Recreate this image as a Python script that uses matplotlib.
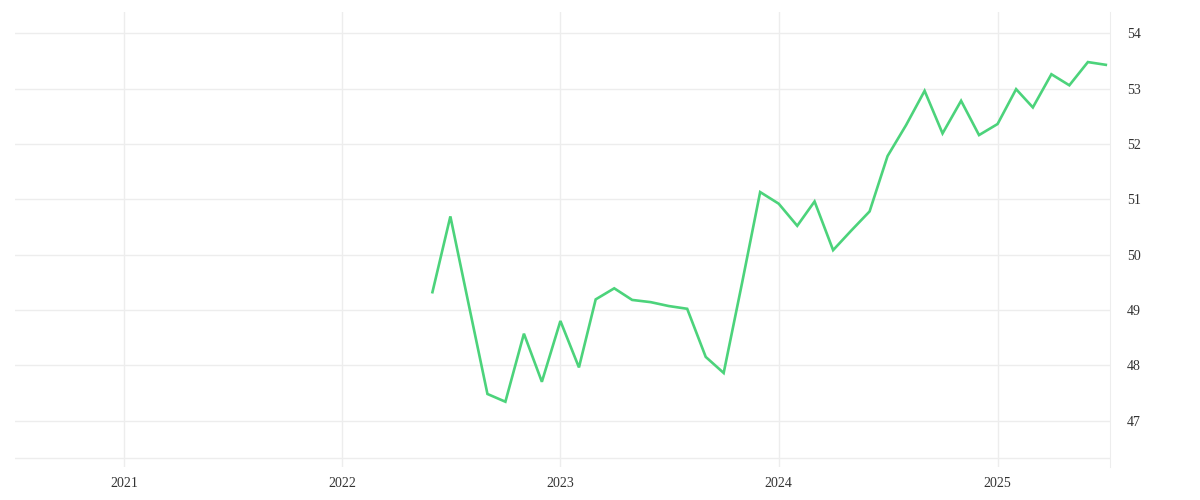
import datetime as dt
import matplotlib
matplotlib.use("Agg")
import matplotlib.pyplot as plt
import matplotlib.dates as mdates

# 月度数据：2022-06 到 2025-07
months = [dt.date(2022 + (5 + i) // 12, (5 + i) % 12 + 1, 1) for i in range(38)]
values = [
    49.32, 50.69, 49.08, 47.48, 47.34, 48.57, 47.70,          # 2022-06 .. 2022-12
    48.80, 47.96, 49.19, 49.39, 49.18, 49.14, 49.07, 49.02,   # 2023-01 .. 2023-08
    48.15, 47.86, 49.50, 51.13,                               # 2023-09 .. 2023-12
    50.92, 50.52, 50.96, 50.08, 50.43, 50.78, 51.78, 52.34,   # 2024-01 .. 2024-08
    52.96, 52.19, 52.78, 52.16,                               # 2024-09 .. 2024-12
    52.36, 52.99, 52.66, 53.26, 53.06, 53.48, 53.43,          # 2025-01 .. 2025-07
]
y_ticks = [47, 48, 49, 50, 51, 52, 53, 54]
x_years = [2021, 2022, 2023, 2024, 2025]

grid_c = '#ededed'
text_c = '#333333'

fig = plt.figure(figsize=(12, 5), dpi=100)
ax = fig.add_axes([0.0125, 0.066, 0.9125, 0.91])

ax.plot(months, values, color='#4cd37b', linewidth=1.9, solid_joinstyle='miter')

ax.set_xlim(dt.date(2020, 7, 3), dt.date(2025, 7, 8))
ax.set_ylim(46.16, 54.385)

ax.set_xticks([dt.date(y, 1, 1) for y in x_years])
ax.xaxis.set_major_formatter(mdates.DateFormatter('%Y'))
ax.set_yticks(y_ticks)

ax.yaxis.tick_right()
ax.grid(True, color=grid_c, linewidth=1)
ax.set_axisbelow(True)
ax.axhline(46.32, color=grid_c, linewidth=1, zorder=0)

for side in ['top', 'left', 'bottom']:
    ax.spines[side].set_visible(False)
ax.spines['right'].set_color(grid_c)

ax.tick_params(axis='both', length=0, labelcolor=text_c, labelsize=10)
ax.tick_params(axis='y', pad=12)
ax.tick_params(axis='x', pad=7)
for lab in ax.get_xticklabels() + ax.get_yticklabels():
    lab.set_fontfamily('Liberation Serif')

fig.savefig('out.png', dpi=100)
